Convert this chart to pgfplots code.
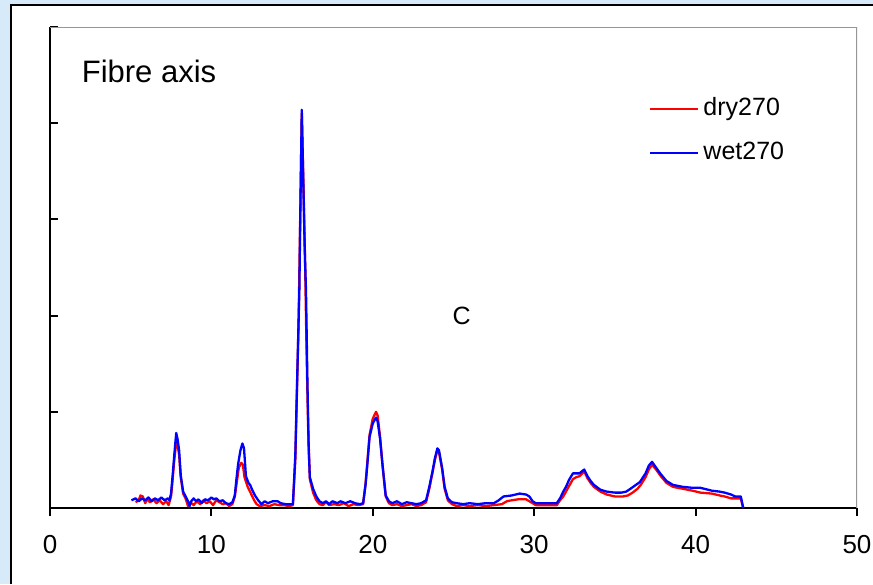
\documentclass[border=0pt]{standalone}
\usepackage{fontspec}
\setmainfont{Liberation Sans}
\usepackage{pgfplots}
\pgfplotsset{compat=1.18}
\definecolor{frameBlue}{RGB}{214,234,250}
\definecolor{boxGray}{RGB}{150,150,150}
\begin{document}
\begin{tikzpicture}[x=1pt,y=1pt]
\useasboundingbox (0,0) rectangle (436.5,292);
\fill[frameBlue] (0,0) rectangle (436.5,292);
\fill[white] (5.5,0) rectangle (436.5,289.5);
\draw[black,line width=1pt] (5.5,0) -- (5.5,289.5) -- (436.5,289.5);
\begin{axis}[at={(25pt,38pt)}, anchor=south west, scale only axis,
  width=403.5pt, height=240.5pt,
  xmin=0, xmax=50, ymin=0, ymax=5,
  axis x line*=bottom, axis y line*=left,
  axis line style={black,line width=1pt},
  xtick={0,10,...,50}, ytick={1,2,3,4,5}, yticklabels={},
  xtick align=outside, ytick align=inside,
  major tick length=4pt, tick style={black,line width=1pt},
  /pgf/number format/assume math mode=true,
  xticklabel style={font=\fontsize{13}{13}\selectfont, yshift=-6pt},
  legend cell align=left,
  legend image code/.code={\draw[#1] (0pt,0pt) -- (24pt,0pt);},
  legend style={draw=none, fill=none, at={(0.742,0.863)}, anchor=north west,
    inner sep=0pt, row sep=6pt, font=\fontsize{12.5}{15}\selectfont,
    nodes={inner sep=2pt, text height=9pt, text depth=3pt}}]
\addplot[red, line width=1.15pt, line join=round] coordinates {
(5.3,0.06)(5.5,0.08)(5.6,0.13)(5.75,0.12)(5.9,0.05)(6.0,0.09)(6.2,0.06)(6.4,0.09)(6.6,0.05)(6.8,0.08)
(7.0,0.04)(7.2,0.07)(7.35,0.03)(7.5,0.12)(7.6,0.3)(7.7,0.5)(7.85,0.72)(8.0,0.55)(8.1,0.32)(8.25,0.15)
(8.4,0.1)(8.55,0.02)(8.7,0.06)(8.9,0.03)(9.1,0.07)(9.3,0.04)(9.5,0.08)(9.7,0.05)(9.9,0.07)(10.1,0.03)
(10.3,0.08)(10.5,0.06)(10.7,0.04)(10.9,0.05)(11.1,0.02)(11.3,0.04)(11.45,0.12)(11.6,0.3)(11.7,0.42)(11.85,0.47)
(11.95,0.45)(12.05,0.32)(12.25,0.22)(12.45,0.15)(12.65,0.08)(12.8,0.04)(13.0,0.02)(13.3,0.03)(13.6,0.02)(13.9,0.04)
(14.2,0.03)(14.5,0.03)(14.8,0.02)(15.05,0.03)(15.2,0.5)(15.3,1.2)(15.4,1.9)(15.5,3.0)(15.6,4.1)(15.7,3.4)
(15.8,2.6)(15.9,1.6)(16.0,0.8)(16.1,0.3)(16.3,0.16)(16.5,0.08)(16.7,0.04)(16.9,0.03)(17.1,0.06)(17.3,0.03)
(17.6,0.04)(17.9,0.03)(18.2,0.05)(18.5,0.02)(18.8,0.04)(19.1,0.03)(19.4,0.04)(19.55,0.25)(19.65,0.45)(19.8,0.76)
(20.0,0.93)(20.2,1.0)(20.3,0.96)(20.45,0.74)(20.6,0.45)(20.8,0.12)(21.0,0.05)(21.2,0.03)(21.5,0.04)(21.8,0.02)
(22.1,0.03)(22.4,0.04)(22.7,0.02)(23.0,0.03)(23.3,0.06)(23.5,0.2)(23.7,0.37)(23.85,0.5)(24.0,0.6)(24.1,0.58)
(24.3,0.4)(24.45,0.2)(24.65,0.08)(24.9,0.04)(25.2,0.02)(25.6,0.03)(26.0,0.02)(26.5,0.03)(27.0,0.02)(27.5,0.03)
(28.0,0.04)(28.3,0.07)(28.6,0.08)(29.0,0.09)(29.5,0.09)(29.8,0.06)(30.1,0.03)(30.6,0.03)(31.0,0.03)(31.4,0.03)
(31.6,0.08)(31.8,0.12)(32.0,0.18)(32.2,0.24)(32.4,0.3)(32.6,0.32)(32.8,0.33)(33.1,0.38)(33.3,0.31)(33.5,0.26)
(33.7,0.22)(34.1,0.17)(34.5,0.14)(35.0,0.12)(35.5,0.12)(35.8,0.13)(36.1,0.16)(36.4,0.2)(36.6,0.24)(36.9,0.32)
(37.1,0.4)(37.3,0.45)(37.55,0.4)(37.85,0.33)(38.2,0.26)(38.6,0.22)(39.2,0.2)(39.8,0.18)(40.3,0.16)(41.0,0.15)
(41.5,0.13)(41.8,0.12)(42.2,0.1)(42.8,0.1)(42.95,0.0)};
\addlegendentry{dry270}
\addplot[blue, line width=1.15pt, line join=round] coordinates {
(5.05,0.08)(5.3,0.1)(5.5,0.07)(5.7,0.1)(5.9,0.08)(6.1,0.11)(6.3,0.07)(6.5,0.1)(6.7,0.08)(6.9,0.11)
(7.1,0.08)(7.3,0.1)(7.4,0.08)(7.5,0.15)(7.6,0.34)(7.7,0.55)(7.82,0.78)(7.9,0.72)(8.0,0.6)(8.1,0.34)
(8.25,0.17)(8.4,0.12)(8.55,0.07)(8.65,0.02)(8.75,0.07)(8.9,0.1)(9.05,0.07)(9.2,0.09)(9.4,0.05)(9.6,0.09)
(9.8,0.08)(10.0,0.11)(10.15,0.09)(10.3,0.1)(10.5,0.07)(10.7,0.08)(10.9,0.05)(11.1,0.04)(11.3,0.06)(11.45,0.13)
(11.55,0.3)(11.65,0.45)(11.8,0.6)(11.92,0.67)(12.02,0.62)(12.14,0.33)(12.3,0.26)(12.4,0.24)(12.55,0.18)(12.7,0.13)
(12.9,0.08)(13.1,0.04)(13.3,0.07)(13.5,0.05)(13.8,0.07)(14.1,0.07)(14.3,0.05)(14.6,0.04)(14.9,0.04)(15.05,0.04)
(15.2,0.55)(15.3,1.25)(15.45,2.27)(15.52,3.2)(15.6,4.14)(15.68,3.5)(15.78,2.7)(15.86,2.27)(15.95,1.3)(16.03,0.6)
(16.1,0.32)(16.3,0.2)(16.5,0.12)(16.7,0.07)(16.9,0.05)(17.1,0.07)(17.3,0.04)(17.5,0.07)(17.8,0.05)(18.0,0.07)
(18.3,0.05)(18.6,0.07)(18.9,0.05)(19.2,0.04)(19.4,0.05)(19.55,0.24)(19.65,0.43)(19.8,0.74)(20.0,0.88)(20.2,0.94)
(20.3,0.9)(20.45,0.72)(20.6,0.45)(20.8,0.13)(21.0,0.07)(21.2,0.05)(21.5,0.07)(21.8,0.04)(22.1,0.06)(22.4,0.05)
(22.7,0.04)(23.0,0.05)(23.3,0.08)(23.5,0.22)(23.7,0.38)(23.85,0.52)(24.0,0.62)(24.1,0.6)(24.3,0.41)(24.45,0.22)
(24.65,0.1)(24.9,0.06)(25.2,0.05)(25.6,0.04)(26.0,0.05)(26.5,0.04)(27.0,0.05)(27.5,0.05)(27.8,0.08)(28.1,0.12)
(28.6,0.13)(29.1,0.15)(29.5,0.14)(29.7,0.12)(29.9,0.07)(30.1,0.05)(30.6,0.05)(31.0,0.05)(31.4,0.05)(31.6,0.1)
(31.8,0.17)(32.0,0.23)(32.15,0.29)(32.4,0.36)(32.8,0.36)(33.1,0.4)(33.3,0.33)(33.5,0.28)(33.7,0.24)(34.1,0.19)
(34.5,0.17)(35.0,0.16)(35.4,0.16)(35.7,0.17)(36.05,0.21)(36.3,0.24)(36.55,0.27)(36.9,0.36)(37.1,0.44)(37.3,0.48)
(37.55,0.42)(37.85,0.35)(38.2,0.28)(38.6,0.24)(39.2,0.22)(39.8,0.21)(40.3,0.21)(41.0,0.18)(41.5,0.17)(41.8,0.16)
(42.2,0.14)(42.45,0.12)(42.8,0.12)(42.95,0.0)};
\addlegendentry{wet270}
\draw[boxGray,line width=0.75pt] (rel axis cs:0,1) -- (rel axis cs:1,1) -- (rel axis cs:1,0);
\node[font=\fontsize{15.5}{18}\selectfont] at (rel axis cs:0.1227,0.9085) {Fibre axis};
\node[font=\fontsize{12.5}{15}\selectfont] at (axis cs:25.5,2) {C};
\end{axis}
\end{tikzpicture}
\end{document}
